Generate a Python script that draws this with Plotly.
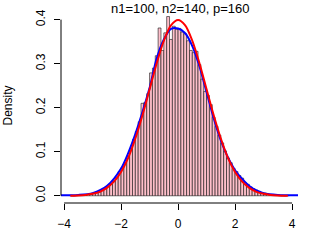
import plotly.graph_objects as go

title_text = "n1=100, n2=140, p=160"
y_label = "Density"

# histogram (density scale), bins of width 0.1 starting at -3.8
bin_start = -3.8
bin_width = 0.1
hist_density = [
    0.001, 0.000, 0.001, 0.001, 0.002, 0.001, 0.003, 0.004, 0.005, 0.007,
    0.009, 0.013, 0.017, 0.022, 0.027, 0.034, 0.042, 0.055, 0.064, 0.075,
    0.090, 0.107, 0.128, 0.146, 0.168, 0.210, 0.212, 0.232, 0.279, 0.290,
    0.318, 0.381, 0.330, 0.370, 0.407, 0.355, 0.385, 0.378, 0.380, 0.372,
    0.368, 0.352, 0.330, 0.325, 0.328, 0.298, 0.265, 0.237, 0.228, 0.207,
    0.178, 0.158, 0.138, 0.120, 0.102, 0.086, 0.075, 0.062, 0.055, 0.046,
    0.040, 0.030, 0.026, 0.020, 0.016, 0.013, 0.010, 0.007, 0.006, 0.004,
    0.003, 0.002, 0.002, 0.001, 0.001, 0.000, 0.001,
]
bin_centers = [round(bin_start + bin_width * (i + 0.5), 4) for i in range(len(hist_density))]

# kernel density estimate (blue)
kde_x = [-4.3, -3.5, -3.0, -2.5, -2.0, -1.75, -1.5, -1.25, -1.0, -0.75, -0.5, -0.25,
         0.0, 0.25, 0.5, 0.75, 1.0, 1.25, 1.5, 1.75, 2.0, 2.25, 2.5, 2.75, 3.0, 3.5, 4.4]
kde_y = [0.001, 0.002, 0.006, 0.022, 0.062, 0.097, 0.140, 0.190, 0.245, 0.312, 0.355, 0.379,
         0.380, 0.369, 0.340, 0.294, 0.235, 0.176, 0.126, 0.087, 0.058, 0.038, 0.022, 0.012,
         0.006, 0.002, 0.001]

# normal reference density (red)
norm_x = [-3.78, -3.5, -3.25, -3.0, -2.75, -2.5, -2.25, -2.0, -1.75, -1.5, -1.25, -1.0,
          -0.75, -0.5, -0.25, 0.0, 0.25, 0.5, 0.75, 1.0, 1.25, 1.5, 1.75, 2.0, 2.25, 2.5,
          2.75, 3.0, 3.25, 3.5, 3.85]
norm_y = [0.0003, 0.0009, 0.002, 0.0044, 0.009, 0.018, 0.032, 0.054, 0.086, 0.130, 0.183, 0.242,
          0.301, 0.352, 0.387, 0.399, 0.387, 0.352, 0.301, 0.242, 0.183, 0.130, 0.086, 0.054,
          0.032, 0.018, 0.009, 0.0044, 0.002, 0.0009, 0.0002]

x_ticks = [-4, -2, 0, 2, 4]
y_ticks = [0.0, 0.1, 0.2, 0.3, 0.4]
y_tick_text = ["0.0", "0.1", "0.2", "0.3", "0.4"]

fig = go.Figure()
fig.add_trace(go.Bar(x=bin_centers, y=hist_density, width=bin_width,
                     marker=dict(color="#FFC0CB", line=dict(color="#111111", width=0.6)),
                     hoverinfo="skip"))
fig.add_trace(go.Scatter(x=kde_x, y=kde_y, mode="lines",
                         line=dict(color="#0000FF", width=2, shape="spline", smoothing=0.8)))
fig.add_trace(go.Scatter(x=norm_x, y=norm_y, mode="lines",
                         line=dict(color="#FF0000", width=2, shape="spline", smoothing=0.8)))

font_family = "Liberation Sans, Arial, sans-serif"
fig.update_layout(
    width=328, height=248,
    margin=dict(l=61, r=30, t=8, b=45, pad=0),
    paper_bgcolor="white", plot_bgcolor="white",
    showlegend=False,
    font=dict(family=font_family, size=12, color="black"),
    xaxis=dict(range=[-4.108, 4.208], showgrid=False, zeroline=False, showline=False,
               automargin=False, ticklabelstandoff=4,
               tickmode="array", tickvals=x_ticks, ticks="outside", ticklen=6,
               tickwidth=1, tickcolor="black", tickfont=dict(size=12)),
    yaxis=dict(range=[-0.0164, 0.4264], showgrid=False, zeroline=False, showline=False,
               automargin=False, ticklabelstandoff=4,
               tickmode="array", tickvals=y_ticks, ticktext=y_tick_text, ticks="outside",
               ticklen=6, tickwidth=1, tickcolor="black", tickangle=-90,
               tickfont=dict(size=12)),
    shapes=[
        dict(type="line", xref="x", yref="paper", x0=-4, x1=4, y0=0, y1=0,
             line=dict(color="black", width=1)),
        dict(type="line", xref="paper", yref="y", x0=0, x1=0, y0=0, y1=0.4,
             line=dict(color="black", width=1)),
    ],
    annotations=[
        dict(text=title_text, xref="paper", yref="paper", x=0.5, y=1, xanchor="center",
             yanchor="middle", showarrow=False, font=dict(size=13)),
        dict(text=y_label, xref="paper", yref="paper", x=0, y=0.5, xanchor="center",
             yanchor="middle", xshift=-54, textangle=-90, showarrow=False,
             font=dict(size=12)),
    ],
)

fig.write_html("out.html", config={"displayModeBar": False},
               post_script="document.body.style.margin='0px';document.body.style.overflow='hidden';")
